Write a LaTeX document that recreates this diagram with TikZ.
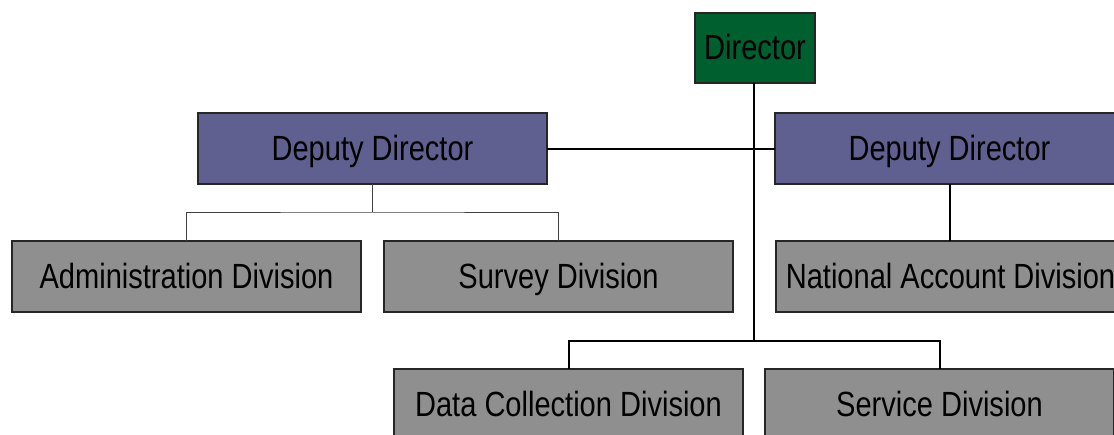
\documentclass[tikz,border=0pt]{standalone}
\usepackage{fontspec}
\setmainfont[FakeStretch=0.83]{Liberation Sans}
\usetikzlibrary{positioning}
\definecolor{dirgreen}{RGB}{0,95,47}
\definecolor{depblue}{RGB}{96,96,144}
\definecolor{divgrey}{RGB}{143,143,143}

\begin{document}
\begin{tikzpicture}[
x=1pt, y=-1pt,
   box/.style = {rectangle, draw=black!85, line width=1.5pt,
                 inner sep=0pt, outer sep=0pt, minimum height=71pt,
                 text height=25pt, text depth=2pt,
                 font=\fontsize{35}{40}\selectfont},
   Dir/.style = {box, fill=dirgreen, minimum width=120pt, minimum height=70pt},
   Dep/.style = {box, fill=depblue, minimum width=349pt},
   Div/.style = {box, fill=divgrey, minimum width=349pt},
  link/.style = {line width=2pt, black},
  twig/.style = {line width=1pt, black!75},
                        ]
\useasboundingbox (0,0) rectangle (1114,434);
\clip (0,0) rectangle (1114,434);
% top
\node[Dir] (dir) at (755,48) {Director};
% deputies
\node[Dep] (depL) at (372.5,148.5) {Deputy Director};
\node[Dep] (depR) at (949.5,148.5) {Deputy Director};
% divisions
\node[Div] (adm) at (186.5,276.5) {Administration Division};
\node[Div] (srv) at (558.5,276.5) {Survey Division};
\node[Div] (nat) at (950.5,276.5) {National Account Division};
\node[Div] (dat) at (568.5,404.5) {Data Collection Division};
\node[Div] (svc) at (939.5,404.5) {Service Division};
% joints
\coordinate (jL) at (372.5,212);
\coordinate (jB) at (754,341);
% connectors
\draw[link] (dir.south -| jB) -- (jB);
\draw[link] (depL.east) -- (depR.west);
\draw[link] (dat.north) |- (jB) -| (svc.north);
\draw[link] (depR.south) -- (depR.south |- nat.north);
\draw[twig] (depL.south) -- (jL);
\draw[twig] (adm.north) |- (jL) -| (srv.north);
\end{tikzpicture}
\end{document}
